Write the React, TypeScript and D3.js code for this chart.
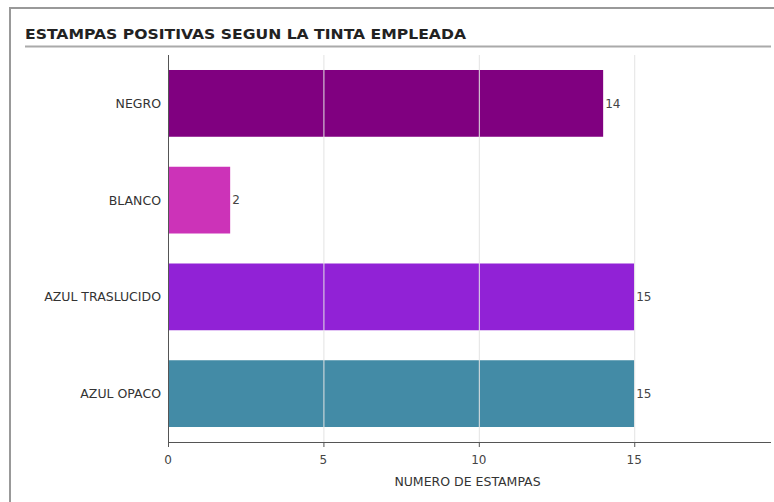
import React from "react";
import * as d3 from "d3";

const categories = ["NEGRO", "BLANCO", "AZUL TRASLUCIDO", "AZUL OPACO"];
const values = [14, 2, 15, 15];
const colors = ["#800080", "#cc33b8", "#9122d6", "#438ba6"];
const xTicks = [0, 5, 10, 15];
const title = "ESTAMPAS POSITIVAS SEGUN LA TINTA EMPLEADA";
const xTitle = "NUMERO DE ESTAMPAS";

export default function App() {
  const W = 774, H = 502;
  const left = 168, right = 771, top = 55, bottom = 442;
  const x = d3.scaleLinear().domain([0, 19.4]).range([left, right]);
  const y = d3.scaleBand().domain(categories).range([top, bottom]).paddingInner(0.31).paddingOuter(0.155);
  const font = "Verdana, 'DejaVu Sans', sans-serif";
  return (
    <svg width={W} height={H} style={{ position: "absolute", left: 0, top: 0, background: "#fff" }} fontFamily={font}>
      <rect x={0} y={0} width={W} height={H} fill="#fff" />
      <line x1={9} x2={W} y1={8} y2={8} stroke="#999" strokeWidth={2} />
      <line x1={10} x2={10} y1={7} y2={H} stroke="#999" strokeWidth={2} />
      <text x={25} y={39} fontSize={14} fontWeight="bold" fill="#222" fontFamily="'DejaVu Sans', Verdana, sans-serif" textLength={441} lengthAdjust="spacingAndGlyphs">{title}</text>
      <line x1={25} x2={771} y1={46.5} y2={46.5} stroke="#aaa" strokeWidth={2} />
      {categories.map((c, i) => (
        <g key={c}>
          <rect x={x(0)} y={y(c)!} width={x(values[i]) - x(0)} height={y.bandwidth()} fill={colors[i]} />
          <text x={x(values[i]) + 2} y={y(c)! + y.bandwidth() / 2} dy="0.35em" fontSize={12} fill="#444">{values[i]}</text>
          <text x={left - 7} y={y(c)! + y.bandwidth() / 2} dy="0.35em" fontSize={12.5} fill="#333" textAnchor="end">{c}</text>
        </g>
      ))}
      {xTicks.filter(t => t > 0).map(t => (
        <line key={t} x1={x(t) + 0.5} x2={x(t) + 0.5} y1={top} y2={bottom} stroke="#e3e3e3" strokeWidth={1} />
      ))}
      <line x1={left + 0.5} x2={left + 0.5} y1={top} y2={bottom} stroke="#555" strokeWidth={1} />
      <line x1={left} x2={right} y1={bottom + 0.5} y2={bottom + 0.5} stroke="#555" strokeWidth={1} />
      {xTicks.map(t => (
        <g key={"t" + t}>
          <line x1={x(t) + 0.5} x2={x(t) + 0.5} y1={bottom} y2={bottom + 5} stroke="#555" />
          <text x={x(t)} y={bottom + 22} fontSize={12} fill="#444" textAnchor="middle">{t}</text>
        </g>
      ))}
      <text x={(x(0) + x(19.4)) / 2 - 2} y={bottom + 44} fontSize={12.5} fill="#333" textAnchor="middle">{xTitle}</text>
    </svg>
  );
}
